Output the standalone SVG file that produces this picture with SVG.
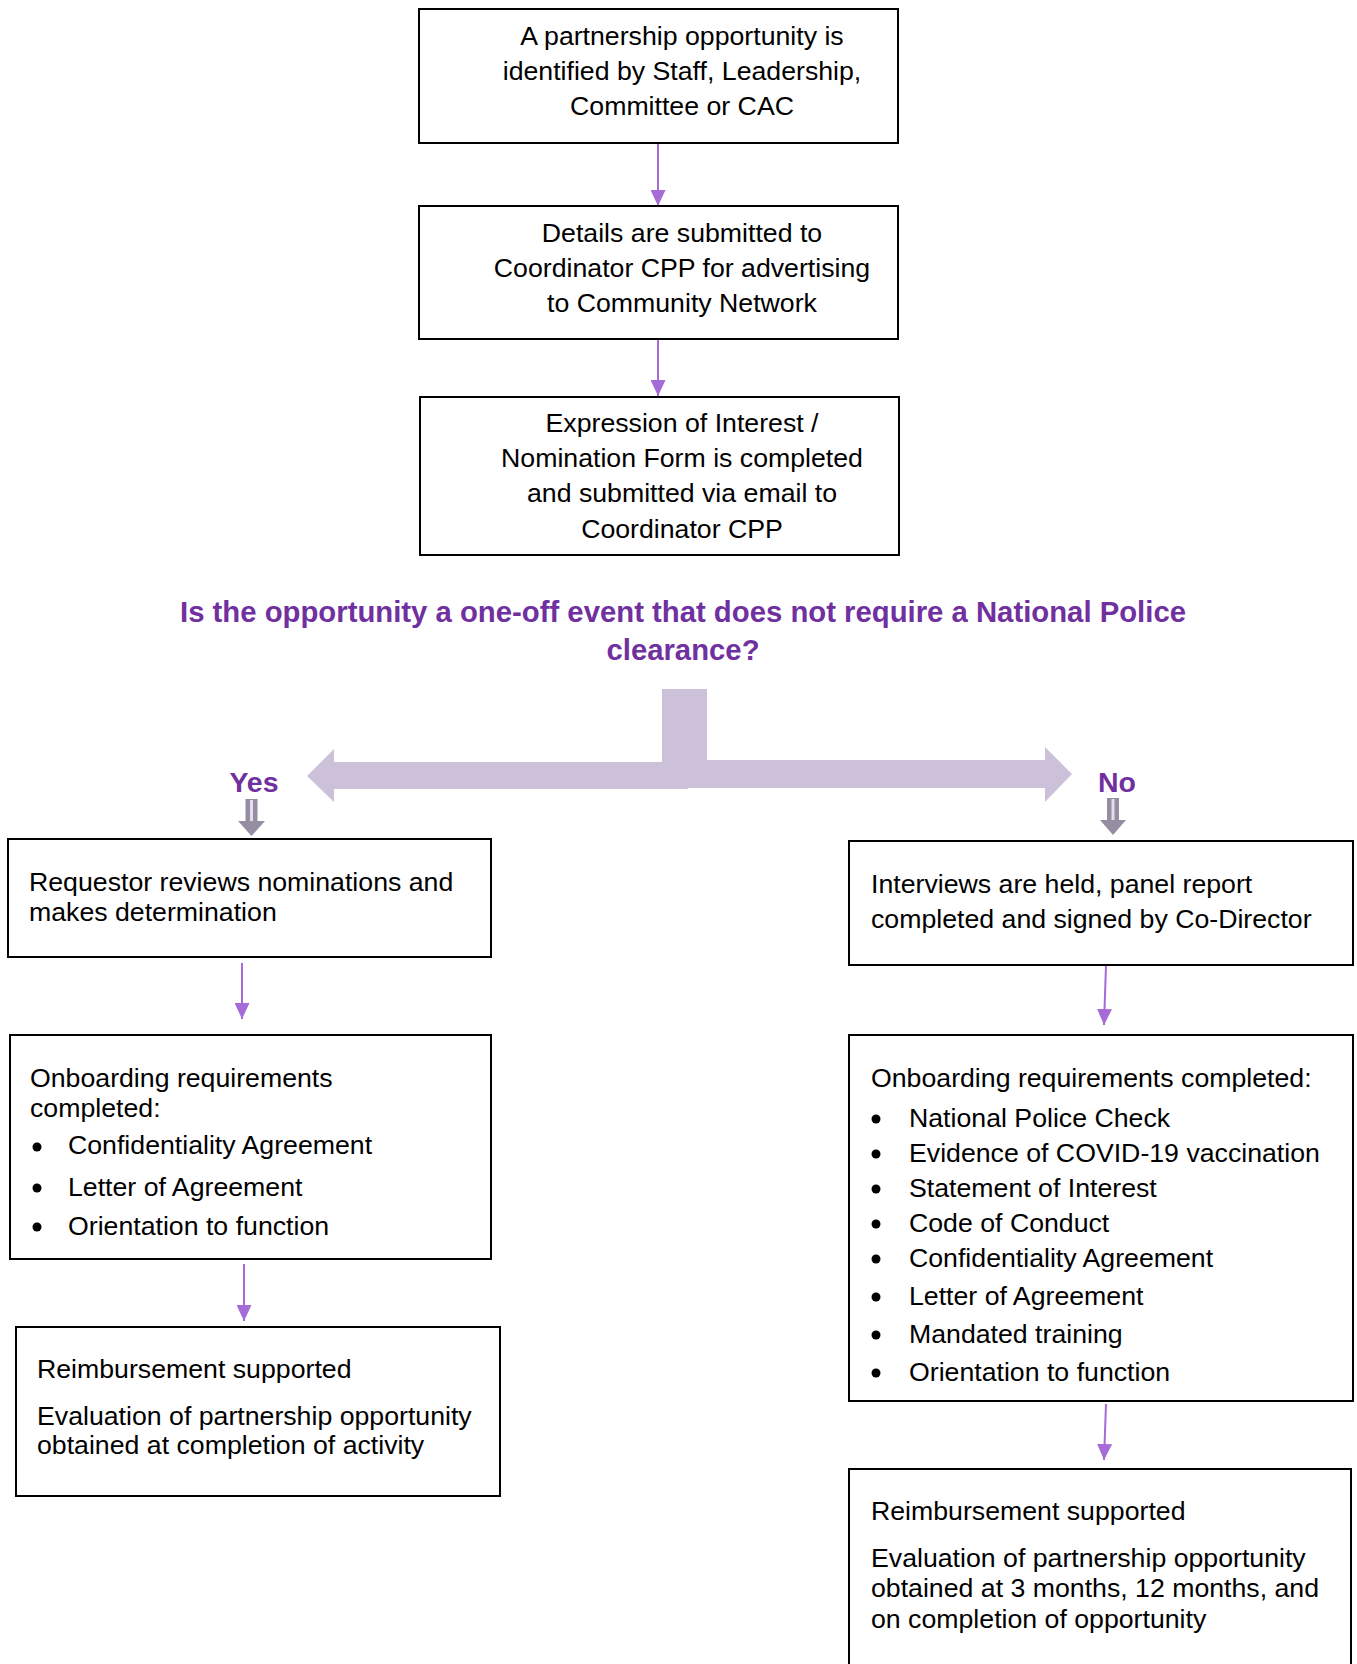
<svg xmlns="http://www.w3.org/2000/svg" width="1357" height="1664" viewBox="0 0 1357 1664">
<style>
.box{fill:#fff;stroke:#000;stroke-width:2}
.t{font-family:"Liberation Sans",Arial,sans-serif;font-size:26.7px;fill:#000}
.c{text-anchor:middle}
.q{font-family:"Liberation Sans",Arial,sans-serif;font-size:29.3px;font-weight:bold;fill:#7030A0}
.lab{font-family:"Liberation Sans",Arial,sans-serif;font-size:28.5px;font-weight:bold;fill:#7030A0}
.conn{stroke:#A56BD6;stroke-width:2;fill:none;marker-end:url(#ah)}
.big{fill:#CDC1DA}
.garrow{fill:#958DA2}
.gstripe{stroke:#E4DDEB;stroke-width:3}
</style>
<defs>
<marker id="ah" markerUnits="userSpaceOnUse" markerWidth="16" markerHeight="15" refX="16" refY="7.5" orient="auto">
<path d="M0,0 L16,7.5 L0,15 Z" fill="#A56BD6"/>
</marker>
</defs>

<g id="connectors">
<line class="conn" x1="658" y1="143" x2="658" y2="206"/>
<line class="conn" x1="658" y1="339" x2="658" y2="396"/>
<line class="conn" x1="242" y1="963" x2="242" y2="1019"/>
<line class="conn" x1="244" y1="1264" x2="244" y2="1321"/>
<line class="conn" x1="1106" y1="965" x2="1104" y2="1025"/>
<line class="conn" x1="1106" y1="1404" x2="1104" y2="1460"/>
<g id="big-branch-arrow">
<rect class="big" x="662" y="689" width="45" height="90"/>
<polygon class="big" points="307,776 334,749 334,762 688,762 688,789 334,789 334,802"/>
<polygon class="big" points="1072,774 1045,747 1045,760 688,760 688,788 1045,788 1045,802"/>
</g>
<g id="yes-arrow">
<polygon class="garrow" points="245.5,799 257.5,799 257.5,821 265,821 251.5,836 238,821 245.5,821"/>
<line class="gstripe" x1="251.5" y1="800" x2="251.5" y2="821"/>
</g>
<g id="no-arrow">
<polygon class="garrow" points="1107,798 1119,798 1119,820 1126,820 1113,835 1100,820 1107,820"/>
<line class="gstripe" x1="1113" y1="799" x2="1113" y2="820"/>
</g>
</g>

<g id="node-identified">
<rect class="box" x="419" y="9" width="479" height="134"/>
<text class="t c" x="682" y="45">A partnership opportunity is</text>
<text class="t c" x="682" y="80">identified by Staff, Leadership,</text>
<text class="t c" x="682" y="115">Committee or CAC</text>
</g>

<g id="node-details">
<rect class="box" x="419" y="206" width="479" height="133"/>
<text class="t c" x="682" y="242">Details are submitted to</text>
<text class="t c" x="682" y="277">Coordinator CPP for advertising</text>
<text class="t c" x="682" y="312">to Community Network</text>
</g>

<g id="node-eoi">
<rect class="box" x="420" y="397" width="479" height="158"/>
<text class="t c" x="682" y="432">Expression of Interest /</text>
<text class="t c" x="682" y="467">Nomination Form is completed</text>
<text class="t c" x="682" y="502">and submitted via email to</text>
<text class="t c" x="682" y="538">Coordinator CPP</text>
</g>

<g id="question">
<text class="q c" x="683" y="622">Is the opportunity a one-off event that does not require a National Police</text>
<text class="q c" x="683" y="660">clearance?</text>
</g>

<g id="label-yes"><text class="lab c" x="254" y="792">Yes</text></g>
<g id="label-no"><text class="lab c" x="1117" y="792">No</text></g>

<g id="node-requestor">
<rect class="box" x="8" y="839" width="483" height="118"/>
<text class="t" x="29" y="891">Requestor reviews nominations and</text>
<text class="t" x="29" y="921">makes determination</text>
</g>

<g id="node-onboard-yes">
<rect class="box" x="10" y="1035" width="481" height="224"/>
<text class="t" x="30" y="1087">Onboarding requirements</text>
<text class="t" x="30" y="1117">completed:</text>
<circle cx="37" cy="1147" r="4.5"/><text class="t" x="68" y="1154">Confidentiality Agreement</text>
<circle cx="37" cy="1188" r="4.5"/><text class="t" x="68" y="1196">Letter of Agreement</text>
<circle cx="37" cy="1227" r="4.5"/><text class="t" x="68" y="1235">Orientation to function</text>
</g>

<g id="node-reimb-yes">
<rect class="box" x="16" y="1327" width="484" height="169"/>
<text class="t" x="37" y="1378">Reimbursement supported</text>
<text class="t" x="37" y="1425">Evaluation of partnership opportunity</text>
<text class="t" x="37" y="1454">obtained at completion of activity</text>
</g>

<g id="node-interviews">
<rect class="box" x="849" y="841" width="504" height="124"/>
<text class="t" x="871" y="893">Interviews are held, panel report</text>
<text class="t" x="871" y="928">completed and signed by Co-Director</text>
</g>

<g id="node-onboard-no">
<rect class="box" x="849" y="1035" width="504" height="366"/>
<text class="t" x="871" y="1087">Onboarding requirements completed:</text>
<circle cx="876" cy="1119" r="4.5"/><text class="t" x="909" y="1127">National Police Check</text>
<circle cx="876" cy="1154" r="4.5"/><text class="t" x="909" y="1162">Evidence of COVID-19 vaccination</text>
<circle cx="876" cy="1189" r="4.5"/><text class="t" x="909" y="1197">Statement of Interest</text>
<circle cx="876" cy="1224" r="4.5"/><text class="t" x="909" y="1232">Code of Conduct</text>
<circle cx="876" cy="1259" r="4.5"/><text class="t" x="909" y="1267">Confidentiality Agreement</text>
<circle cx="876" cy="1297" r="4.5"/><text class="t" x="909" y="1305">Letter of Agreement</text>
<circle cx="876" cy="1335" r="4.5"/><text class="t" x="909" y="1343">Mandated training</text>
<circle cx="876" cy="1373" r="4.5"/><text class="t" x="909" y="1381">Orientation to function</text>
</g>

<g id="node-reimb-no">
<rect class="box" x="849" y="1469" width="502" height="210"/>
<text class="t" x="871" y="1520">Reimbursement supported</text>
<text class="t" x="871" y="1567">Evaluation of partnership opportunity</text>
<text class="t" x="871" y="1597">obtained at 3 months, 12 months, and</text>
<text class="t" x="871" y="1628">on completion of opportunity</text>
</g>
</svg>
